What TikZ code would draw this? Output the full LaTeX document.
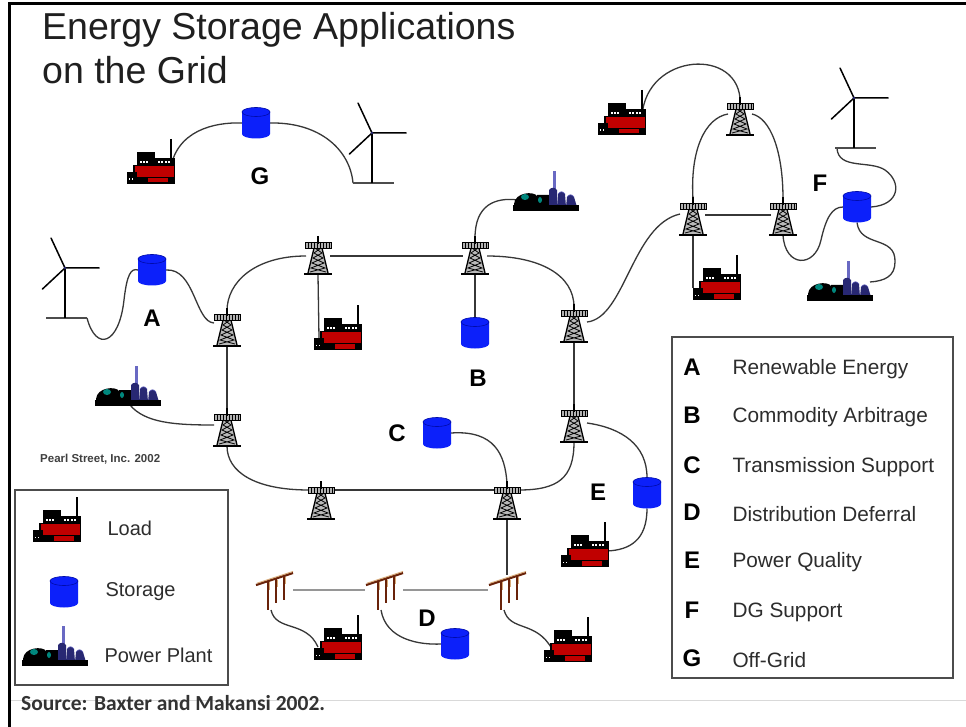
\documentclass[tikz,border=0pt]{standalone}
\usepackage{fontspec}
\setmainfont{Liberation Sans}
\newfontfamily\srcfont{Carlito}
\usetikzlibrary{calc}

\definecolor{stblue}{RGB}{12,32,250}
\definecolor{stblueD}{RGB}{0,12,170}
\definecolor{ldred}{RGB}{192,0,0}
\definecolor{ppteal}{RGB}{0,135,125}
\definecolor{ppnavy}{RGB}{40,40,115}
\definecolor{ppstack}{RGB}{105,105,195}
\definecolor{polebrown}{RGB}{105,35,10}
\definecolor{poletan}{RGB}{215,170,120}
\definecolor{wire}{RGB}{55,55,55}
\definecolor{dwire}{RGB}{150,150,150}
\definecolor{txt}{RGB}{45,45,45}

\tikzset{
  iconbox/.style={inner sep=0pt, outer sep=0pt, minimum width=#1},
  wireline/.style={draw=wire, line width=1.3},
  distline/.style={draw=dwire, line width=1.5},
  tag/.style={font=\fontsize{24}{28}\selectfont\bfseries, text=black},
  legletter/.style={font=\fontsize{24}{28}\selectfont\bfseries, text=black},
  legtext/.style={font=\fontsize{20}{24}\selectfont, text=txt, anchor=west},
  keytext/.style={font=\fontsize{20.8}{24}\selectfont, text=txt, anchor=west},
  % factory (load)
  load/.pic={
    \fill[black] (-14,-10) rectangle (4,6);
    \fill[black] (4,-4) rectangle (24,6);
    \draw[black,line width=1.8] (20,-23) -- (20,-2);
    \fill[black] (-18,3) rectangle (24,22);
    \fill[ldred] (-16,4) rectangle (22.5,15);
    \fill[black] (-24,10) rectangle (-14,22);
    \fill[ldred] (-3,16) rectangle (17,20.5);
    \foreach \x in {-11,-8,-5,7,10,14,17} \fill[white] (\x,-1) rectangle ++(1.6,1.6);
    \foreach \x in {-22,-19} \fill[white] (\x,16.5) rectangle ++(1.4,1.4);
  },
  % storage cylinder
  storage/.pic={
    \fill[stblue] (-14,-11) -- (-14,11)
      arc[start angle=180,end angle=0,x radius=14,y radius=4.5] -- (14,-11)
      arc[start angle=0,end angle=-180,x radius=14,y radius=4.5] -- cycle;
    \draw[stblueD,line width=0.6] (0,-11) ellipse[x radius=14,y radius=4.5];
  },
  % transmission pylon
  tower/.pic={
    \fill[gray!55] (-3,-13) -- (-10,16) -- (10,16) -- (3,-13) -- cycle;
    \draw[black,line width=1.3] (-3,-13) -- (-10,16) (3,-13) -- (10,16);
    \draw[black,line width=0.8] (-3,-9) -- (4,-4) -- (-5,1) -- (6,6) -- (-7,11) -- (8,15)
                                 (3,-9) -- (-4,-4) -- (5,1) -- (-6,6) -- (7,11) -- (-8,15);
    \fill[gray!60] (-13,-15) rectangle (13,-9);
    \draw[black,line width=0.9] (-13,-15) rectangle (13,-9);
    \foreach \x in {-10,-7,...,11} \draw[black,line width=0.6] (\x,-15) -- (\x,-9);
    \draw[black,line width=1.3] (0,-21) -- (0,-13);
    \draw[black,line width=2.6] (-14,17) -- (14,17);
  },
  % wind turbine, origin at the hub
  turbine/.pic={
    \draw[gray!60!black,line width=2] (-19,50) -- (22,50);
    \draw[black,line width=1.8] (0,0) -- (0,50);
    \draw[black,line width=1.5,line cap=round] (0,0) -- (-115:33) (0,0) -- (0:34) (0,0) -- (137:31);
    \fill[ppnavy] (0,0) circle (1.3);
  },
  % power plant
  plant/.pic={
    \fill[ppstack] (6.5,-21) rectangle (10,-2);
    \fill[black] (-32,18) -- (-32,12) .. controls (-31,0) and (-12,-1) .. (-9,4) -- (-9,3) -- (3,3) -- (3,14) -- (32,14) -- (32,18) -- cycle;
    \fill[ppteal] (-21,5) ellipse[x radius=4,y radius=3];
    \fill[ppteal] (-6,8) ellipse[x radius=2,y radius=3];
    \fill[ppnavy] (3,15) -- (3,-2) .. controls (5,-5) and (9,-5) .. (11,-2) -- (11,15) -- cycle;
    \fill[ppnavy] (11,15) -- (12,2) .. controls (14,-1) and (17,-1) .. (19,2) -- (20,15) -- cycle;
    \fill[ppnavy] (20,15) -- (21,5) .. controls (23,2) and (26,2) .. (28,5) -- (31,15) -- cycle;
    \draw[ppstack,line width=0.6] (12,2) .. controls (14,-1) and (17,-1) .. (19,2)
                                   (21,5) .. controls (23,2) and (26,2) .. (28,5);
    \fill[black] (-33,13) rectangle (33,19);
  },
  % distribution pole
  pole/.pic={
    \draw[polebrown,line width=2.4] (-6,-9) -- (-6,20) (2,-11.5) -- (2,13) (10,-14) -- (10,10);
    \draw[poletan,line width=0.7] (-4.8,-8) -- (-4.8,0) (3.2,-10.5) -- (3.2,-3) (11.2,-13) -- (11.2,-6);
    \draw[polebrown,line width=2.2] (-18,-5) -- (19,-17);
    \draw[poletan,line width=0.9] (-17,-6.8) -- (19,-18.6);
  },
}

\begin{document}
\begin{tikzpicture}[x=1pt,y=-1pt]
\useasboundingbox (0,0) rectangle (966,727);
\fill[white] (0,0) rectangle (966,727);

% frame
\draw[gray!30,line width=0.8] (10,700) -- (966,700);
\draw[black,line width=3] (9,4) -- (966,4);
\draw[black,line width=3] (9.5,2.5) -- (9.5,727);

% title
\node[anchor=base west,inner sep=0,text=black!88,font=\fontsize{37.5}{40}\selectfont] (title1) at (42,40) {Energy Storage Applications};
\node[anchor=base west,inner sep=0,text=black!88,font=\fontsize{37.5}{40}\selectfont] (title2) at (42,84) {on the Grid};

% ---------- icon positions ----------
% loads
\node[iconbox=48,minimum height=46] (gload)  at (151,162) {};
\node[iconbox=48,minimum height=46] (tload)  at (338,328) {};
\node[iconbox=48,minimum height=46] (eload)  at (585,545) {};
\node[iconbox=48,minimum height=46] (d1load) at (338,638) {};
\node[iconbox=48,minimum height=46] (d3load) at (568,640) {};
\node[iconbox=48,minimum height=46] (f1load) at (622,113) {};
\node[iconbox=48,minimum height=46] (f2load) at (717,278) {};
\node[iconbox=48,minimum height=46] (legload) at (57,520) {};
% storage
\node[iconbox=28,minimum height=31] (gstore) at (256,123) {};
\node[iconbox=28,minimum height=31] (astore) at (152,270) {};
\node[iconbox=28,minimum height=31] (bstore) at (475,333) {};
\node[iconbox=28,minimum height=31] (cstore) at (437,433) {};
\node[iconbox=28,minimum height=31] (estore) at (647,493) {};
\node[iconbox=28,minimum height=31] (dstore) at (455,644) {};
\node[iconbox=28,minimum height=31] (fstore) at (857,207) {};
\node[iconbox=28,minimum height=31] (legstore) at (64,592) {};
% towers
\node[iconbox=28,minimum height=38] (tL1) at (227,329) {};
\node[iconbox=28,minimum height=38] (tL2) at (227,429) {};
\node[iconbox=28,minimum height=38] (tT1) at (318,257) {};
\node[iconbox=28,minimum height=38] (tT2) at (475,257) {};
\node[iconbox=28,minimum height=38] (tR1) at (574,325) {};
\node[iconbox=28,minimum height=38] (tR2) at (574,425) {};
\node[iconbox=28,minimum height=38] (tB1) at (321,502) {};
\node[iconbox=28,minimum height=38] (tB2) at (507,502) {};
\node[iconbox=28,minimum height=38] (tF1) at (693,218) {};
\node[iconbox=28,minimum height=38] (tF2) at (783,218) {};
\node[iconbox=28,minimum height=38] (tF3) at (740,118) {};
% power plants
\node[iconbox=64,minimum height=40] (aplant) at (128,387) {};
\node[iconbox=64,minimum height=40] (bplant) at (546,192) {};
\node[iconbox=64,minimum height=40] (fplant) at (840,282) {};
\node[iconbox=64,minimum height=40] (legplant) at (55,647) {};
% distribution poles
\node[iconbox=38,minimum height=40] (pole1) at (274,590) {};
\node[iconbox=38,minimum height=40] (pole2) at (384,590) {};
\node[iconbox=38,minimum height=40] (pole3) at (507,590) {};
% wind turbines (hub)
\node[iconbox=4,minimum height=4] (gturb) at (372,133) {};
\node[iconbox=4,minimum height=4] (aturb) at (65,268) {};
\node[iconbox=4,minimum height=4] (fturb) at (854,98) {};

% ---------- connectors ----------
% main transmission loop
\draw[wireline] ($(tL1)+(0,-18)$) .. controls (227,282) and (255,256) .. ($(tT1)+(-12,-1)$);
\draw[wireline] ($(tT1)+(12,-1)$) -- ($(tT2)+(-12,-1)$);
\draw[wireline] ($(tT2)+(12,-1)$) .. controls (540,256) and (574,275) .. ($(tR1)+(0,-18)$);
\draw[wireline] ($(tR1)+(0,17)$) -- ($(tR2)+(0,-18)$);
\draw[wireline] ($(tR2)+(0,17)$) .. controls (574,478) and (558,490) .. ($(tB2)+(12,-12)$);
\draw[wireline] ($(tB2)+(-12,-12)$) -- ($(tB1)+(12,-12)$);
\draw[wireline] ($(tB1)+(-12,-12)$) .. controls (255,490) and (227,472) .. ($(tL2)+(0,17)$);
\draw[wireline] ($(tL1)+(0,17)$) -- ($(tL2)+(0,-18)$);
% load and B
\draw[wireline] ($(tT1)+(0,18)$) -- ($(tload)+(-19,10)$);
\draw[wireline] ($(tT2)+(0,18)$) -- (bstore.north);
\draw[wireline] ($(tT2)+(0,-19)$) .. controls (475,205) and (495,197) .. ($(bplant)+(-28,8)$);
% A
\draw[wireline] ($(aturb)+(22,50)$) .. controls (96,352) and (119,345) .. (124,300)
                 .. controls (127,274) and (131,268) .. (astore.west);
\draw[wireline] (astore.east) .. controls (195,268) and (195,322) .. ($(tL1)+(-13,-6)$);
\draw[wireline] ($(aplant)+(2,18)$) .. controls (145,423) and (175,425) .. ($(tL2)+(-13,-4)$);
% C
\draw[wireline] (cstore.east) .. controls (495,430) and (505,455) .. ($(tB2)+(0,-19)$);
% E
\draw[wireline] ($(tR2)+(13,-2)$) .. controls (622,428) and (647,445) .. (estore.north);
\draw[wireline] (estore.south) .. controls (647,540) and (630,550) .. ($(eload)+(22,6)$);
% D
\draw[wireline] ($(tB2)+(0,17)$) -- ($(pole3)+(0,-15)$);
\draw[distline] ($(pole1)+(19,0)$) -- ($(pole2)+(-19,0)$);
\draw[distline] ($(pole2)+(19,0)$) -- ($(pole3)+(-19,0)$);
\draw[wireline] ($(pole1)+(-3,20)$) .. controls (276,632) and (306,620) .. ($(d1load)+(-20,9)$);
\draw[wireline] ($(pole2)+(-3,20)$) .. controls (386,640) and (420,645) .. (dstore.west);
\draw[wireline] ($(pole3)+(-3,20)$) .. controls (510,632) and (536,620) .. ($(d3load)+(-16,9)$);
% F
\draw[wireline] ($(tR1)+(13,-3)$) .. controls (625,318) and (632,225) .. ($(tF1)+(-13,-4)$);
\draw[wireline] ($(tF1)+(12,-3)$) -- ($(tF2)+(-12,-3)$);
\draw[wireline] ($(tF1)+(0,-19)$) .. controls (690,150) and (705,118) .. ($(tF3)+(-12,-4)$);
\draw[wireline] ($(tF3)+(12,-4)$) .. controls (770,118) and (783,150) .. ($(tF2)+(0,-19)$);
\draw[wireline] ($(f1load)+(20,9)$) .. controls (640,55) and (735,45) .. ($(tF3)+(0,-20)$);
\draw[wireline] ($(tF1)+(0,17)$) -- ($(f2load)+(-24,10)$);
\draw[wireline] ($(tF2)+(0,17)$) .. controls (785,268) and (815,268) .. (821,240)
                 .. controls (826,218) and (832,207) .. (fstore.west);
\draw[wireline] ($(fturb)+(-17,50)$) .. controls (838,170) and (870,160) .. (885,170)
                 .. controls (902,182) and (900,205) .. (fstore.east);
\draw[wireline] (fstore.south) .. controls (860,248) and (896,235) .. (895,262)
                 .. controls (895,276) and (885,281) .. ($(fplant)+(30,0)$);
% G
\draw[wireline] ($(gload)+(19,10)$) .. controls (175,130) and (215,122) .. (gstore.west);
\draw[wireline] (gstore.east) .. controls (320,122) and (350,150) .. ($(gturb)+(-19,50)$);

% ---------- icons ----------
\foreach \n in {gload,tload,eload,d1load,d3load,f1load,f2load,legload} \pic at (\n) {load};
\foreach \n in {gstore,astore,bstore,cstore,estore,dstore,fstore,legstore} \pic at (\n) {storage};
\foreach \n in {tL1,tL2,tT1,tT2,tR1,tR2,tB1,tB2,tF1,tF2,tF3} \pic at (\n) {tower};
\foreach \n in {aplant,bplant,fplant,legplant} \pic at (\n) {plant};
\foreach \n in {pole1,pole2,pole3} \pic at (\n) {pole};
\foreach \n in {gturb,aturb,fturb} \pic at (\n) {turbine};

% ---------- application tags ----------
\node[tag] (labG) at (260,176) {G};
\node[tag] (labA) at (152,318) {A};
\node[tag] (labB) at (478,378) {B};
\node[tag] (labC) at (397,433) {C};
\node[tag] (labD) at (427,618) {D};
\node[tag] (labE) at (598,492) {E};
\node[tag] (labF) at (820,183) {F};

\node[anchor=west,inner sep=0,text=black!75,font=\fontsize{11.5}{13}\selectfont\bfseries] (credit) at (40,459) {Pearl Street, Inc. 2002};

% ---------- legends ----------
\draw[gray!60!black,line width=1.3] (15,490) rectangle (228,685);
\node[legtext] (ltLoad) at (104,528) {Load};
\node[legtext] (ltStor) at (102,592) {Storage};
\node[legtext] (ltPlant) at (101,655) {Power Plant};

\draw[gray!60!black,line width=1.3] (672,337) rectangle (953,678);
\foreach \y/\l/\t [count=\i] in {367/A/Renewable Energy,415/B/Commodity Arbitrage,465/C/Transmission Support,512/D/Distribution Deferral,560/E/Power Quality,610/F/DG Support,658/G/Off-Grid}{
  \node[legletter] (key\i) at (692,\y) {\l};
  \node[keytext] (keytext\i) at (729,\y+2) {\t};
}

\node[anchor=west,inner sep=0,text=black!80,font=\srcfont\fontsize{21.5}{24}\selectfont\bfseries] (source) at (21,703) {Source: Baxter and Makansi 2002.};
\end{tikzpicture}
\end{document}
